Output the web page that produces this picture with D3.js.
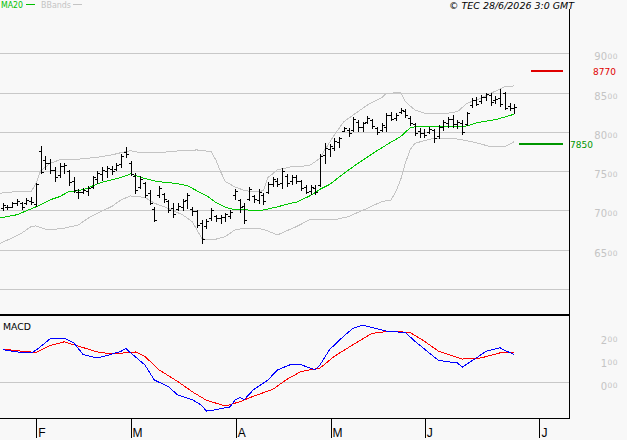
<!DOCTYPE html>
<html>
<head>
<meta charset="utf-8">
<script src="https://cdn.jsdelivr.net/npm/d3@7"></script>
<style>
  body { margin: 0; background: #f8f8f8; }
  svg { display: block; }
</style>
</head>
<body>
<svg id="grafico" width="627" height="440"></svg>
<script>
// Cotações diárias (máxima, mínima, abertura, fechamento)
let maxima = [7100,7070,7110,7145,7110,7155,7175,7355,7820,7695,
  7650,7550,7600,7610,7515,7430,7270,7285,7305,7440,
  7505,7550,7565,7560,7600,7720,7810,7625,7475,7440,
  7365,7260,7050,7305,7225,7135,7090,7100,7145,7225,
  7050,7005,6880,6890,7030,6945,6945,6970,7000,7270,
  7145,7100,7295,7200,7270,7225,7365,7430,7410,7545,
  7460,7450,7445,7390,7325,7325,7325,7715,7855,7840,
  7920,7940,8065,8045,8195,8150,8130,8205,8165,8065,
  8110,8235,8255,8235,8300,8290,8200,8115,8045,8035,
  8065,8035,8090,8150,8195,8215,8145,8145,8255,8430,
  8450,8470,8500,8490,8455,8540,8510,8370,8355];
let minima = [7005,7015,7040,7070,7020,7085,7085,7060,7475,7525,
  7480,7380,7430,7475,7325,7240,7155,7220,7200,7285,
  7345,7390,7430,7465,7515,7550,7685,7445,7220,7285,
  7175,7085,6860,7170,7110,6985,6915,7000,7005,7030,
  6945,6785,6590,6775,6880,6870,6845,6860,6900,7145,
  6985,6845,7135,7110,7100,7085,7220,7305,7305,7285,
  7305,7335,7345,7260,7220,7205,7205,7315,7600,7695,
  7770,7810,8005,7950,8010,8005,8010,8110,8055,7970,
  8010,8010,8145,8145,8235,8195,8090,7960,7940,7940,
  7980,7875,7920,8025,8060,8065,8045,7975,8090,8320,
  8340,8365,8405,8340,8365,8330,8290,8280,8245];
let abertura = [7030,7050,7050,7095,7100,7090,7120,7080,7760,7640,
  7600,7520,7450,7560,7500,7380,7230,7240,7250,7300,
  7400,7470,7500,7530,7530,7590,7740,7600,7440,7300,
  7350,7220,7020,7200,7210,7120,7030,7020,7050,7130,
  7020,6990,6840,6800,6900,6930,6900,6920,6930,7200,
  7130,7060,7150,7180,7130,7200,7230,7340,7380,7350,
  7440,7380,7420,7370,7300,7250,7280,7320,7700,7780,
  7800,7870,8010,8020,8030,8130,8060,8130,8150,8050,
  8020,8060,8220,8180,8250,8270,8180,8100,8010,7990,
  8000,8020,7950,8060,8110,8170,8100,8110,8100,8340,
  8400,8390,8450,8470,8400,8430,8500,8330,8310];
let fechamento = [7075,7040,7090,7120,7045,7130,7110,7340,7490,7600,
  7520,7420,7570,7580,7360,7260,7240,7260,7290,7420,
  7480,7520,7540,7500,7580,7690,7720,7470,7260,7400,
  7200,7100,6880,7280,7150,7010,6950,7060,7120,7200,
  6990,6820,6640,6860,7000,6900,6920,6950,6980,7250,
  7050,6880,7270,7140,7240,7120,7340,7400,7340,7500,
  7350,7420,7370,7290,7240,7300,7230,7690,7800,7820,
  7880,7920,8050,7990,8170,8060,8110,8180,8080,8000,
  8090,8220,8170,8210,8280,8220,8110,7990,7990,7960,
  8040,7920,8060,8130,8170,8100,8120,8000,8240,8410,
  8360,8440,8480,8380,8420,8350,8310,8300,8320];

// Média móvel 20 e bandas de Bollinger (por índice do dia)
let mm20Dia = [-0.5,3,6,8,10,12,14,16,18,20,22,25,27,29,31,33,35,37,39,41,43,45,47,49,52,55,58,60,62,65,67,69,72,75,79,82,84,86,87,90,93,96,98,100,104,108];
let mm20 = [6905,6945,7020,7070,7135,7175,7240,7250,7285,7340,7375,7420,7465,7425,7390,7365,7355,7340,7315,7250,7190,7100,7040,7010,7005,7005,7045,7080,7105,7190,7270,7330,7470,7600,7760,7870,7940,8050,8065,8065,8065,8070,8075,8115,8155,8225];

let bandaSupDia = [-0.5,2,4,6,7,8,10,12,14,16,20,23,25,27,29,33,37,41,44,45,46,47,49,51,53,55,56,58,61,63,65,67,68,70,72,75,77,80,81,84,85,87,89,94,96,98,101,103,106,108];
let bandaSup = [7220,7235,7240,7242,7337,7503,7600,7643,7652,7652,7677,7706,7736,7760,7736,7736,7757,7770,7748,7643,7494,7367,7300,7255,7235,7250,7418,7516,7558,7560,7580,7664,7770,7960,8130,8257,8342,8435,8490,8500,8384,8279,8237,8237,8257,8364,8428,8490,8575,8585];

let bandaInfDia = [-0.5,2,4,6,7,9,11,13,16,18,20,23,25,27,28,30,32,34,36,38,40,42,43,45,47,49,51,53,55,58,62,65,70,73,77,80,82,83,84,85,86,87,91,95,99,103,106,108];
let bandaInf = [6583,6650,6710,6795,6803,6761,6761,6774,6816,6900,6965,7050,7134,7185,7176,7168,7092,7049,6998,6943,6858,6647,6625,6634,6667,6752,6774,6774,6761,6689,6794,6888,6880,6922,7028,7112,7134,7240,7388,7601,7770,7855,7919,7919,7876,7812,7812,7876];

// MACD e linha de sinal
let macdDia = [0,3,6,7,9,10,13,15,17,20,22,25,26,27,30,32,35,37,40,42,43,45,48,49,50,51,53,56,58,61,63,66,67,69,72,74,76,79,81,85,87,90,92,96,97,100,102,105,106,108];
let macd = [142,132,128,139,172,189,192,172,120,106,116,135,148,128,76,10,-19,-56,-75,-100,-125,-119,-107,-78,-66,-75,-31,10,54,79,76,54,76,142,201,235,248,233,223,216,179,128,95,84,66,106,135,150,139,120];
let sinalDia = [0,4,7,10,13,16,20,23,28,30,33,37,40,43,47,50,53,57,60,63,67,70,74,78,82,86,89,92,97,101,105,108];
let sinal = [145,135,130,160,176,157,132,123,132,113,54,3,-41,-78,-103,-85,-60,-31,13,47,62,113,164,213,223,216,179,135,101,106,128,128];

// Eixos
let meses = ["F", "M", "A", "M", "J", "J"];
let mesesDia = [7.1, 27, 49.2, 69.2, 89.1, 113.3];
let grade = [6000, 6500, 7000, 7500, 8000, 8500, 9000];
let rotulosPreco = [6500, 7000, 7500, 8000, 8500, 9000];
let rotulosMacd = [0, 100, 200];
let nivelResistencia = 8770;
let nivelSuporte = 7850;

let svg = d3.select("#grafico");
let xEixo = 569;
let fnX = d3.scaleLinear().domain([0, 108]).range([2.7, 514.3]);
let fnY = d3.scaleLinear().domain([6000, 9000]).range([289, 53.3]);
let fnM = d3.scaleLinear().domain([0, 200]).range([382.3, 336.3]);
let px = (v) => Math.round(v) + 0.5;

svg.append("rect").attr("width", 627).attr("height", 440).attr("fill", "#f8f8f8");

// Grade horizontal
svg
  .selectAll(".grade")
  .data(grade)
  .enter()
  .append("line")
  .classed("grade", true)
  .attr("x1", 0)
  .attr("x2", xEixo)
  .attr("y1", (d) => px(fnY(d)))
  .attr("y2", (d) => px(fnY(d)))
  .attr("stroke", "#c8c8c8")
  .attr("shape-rendering", "crispEdges");

svg
  .append("line")
  .attr("x1", 0)
  .attr("x2", xEixo)
  .attr("y1", px(fnM(0)))
  .attr("y2", px(fnM(0)))
  .attr("stroke", "#c8c8c8")
  .attr("shape-rendering", "crispEdges");

// Bandas e média
function linha(dias, valores, escala, cor) {
  let gerador = d3
    .line()
    .x((d) => fnX(d[0]))
    .y((d) => escala(d[1]));
  svg
    .append("path")
    .attr("d", gerador(d3.zip(dias, valores)))
    .attr("fill", "none")
    .attr("stroke", cor)
    .attr("stroke-width", 1)
    .attr("shape-rendering", "crispEdges");
}
linha(bandaSupDia, bandaSup, fnY, "#c4c4c4");
linha(bandaInfDia, bandaInf, fnY, "#c4c4c4");
linha(mm20Dia, mm20, fnY, "#00c800");

// Barras OHLC
let dados = maxima.map((h, i) => ({
  i: i,
  h: h,
  l: minima[i],
  o: abertura[i],
  c: fechamento[i],
}));
let barras = svg.append("g").attr("fill", "#000").attr("shape-rendering", "crispEdges");
barras
  .selectAll(".barra")
  .data(dados)
  .enter()
  .append("rect")
  .classed("barra", true)
  .attr("x", (d) => Math.round(fnX(d.i)))
  .attr("y", (d) => Math.round(fnY(d.h)))
  .attr("width", 1)
  .attr("height", (d) => Math.round(fnY(d.l)) - Math.round(fnY(d.h)) + 1);
barras
  .selectAll(".abertura")
  .data(dados)
  .enter()
  .append("rect")
  .classed("abertura", true)
  .attr("x", (d) => Math.round(fnX(d.i)) - 2)
  .attr("y", (d) => Math.round(fnY(d.o)))
  .attr("width", 2)
  .attr("height", 1);
barras
  .selectAll(".fechamento")
  .data(dados)
  .enter()
  .append("rect")
  .classed("fechamento", true)
  .attr("x", (d) => Math.round(fnX(d.i)) + 1)
  .attr("y", (d) => Math.round(fnY(d.c)))
  .attr("width", 2)
  .attr("height", 1);

// MACD
linha(sinalDia, sinal, fnM, "#ff0000");
linha(macdDia, macd, fnM, "#0000ff");

// Níveis
svg
  .append("rect")
  .attr("x", 531)
  .attr("width", 32)
  .attr("y", Math.round(fnY(nivelResistencia)) - 1)
  .attr("height", 2)
  .attr("fill", "#e00000");
svg
  .append("rect")
  .attr("x", 519)
  .attr("width", 44)
  .attr("y", Math.round(fnY(nivelSuporte)) - 1)
  .attr("height", 2)
  .attr("fill", "#009600");
svg
  .append("text")
  .attr("x", 593)
  .attr("y", Math.round(fnY(nivelResistencia)) + 4)
  .attr("font-family", "DejaVu Sans")
  .attr("font-size", 9)
  .attr("fill", "#e00000")
  .text(nivelResistencia);
svg
  .append("text")
  .attr("x", 570)
  .attr("y", Math.round(fnY(nivelSuporte)) + 4)
  .attr("font-family", "DejaVu Sans")
  .attr("font-size", 9)
  .attr("fill", "#009600")
  .text(nivelSuporte);

// Molduras
let moldura = svg.append("g").attr("fill", "#000").attr("shape-rendering", "crispEdges");
moldura.append("rect").attr("x", 0).attr("y", 314).attr("width", xEixo).attr("height", 2);
moldura.append("rect").attr("x", 0).attr("y", 418).attr("width", xEixo + 1).attr("height", 1);
moldura.append("rect").attr("x", xEixo).attr("y", 9).attr("width", 1).attr("height", 410);

// Eixo do tempo
let eixoX = d3
  .axisBottom(fnX)
  .tickValues(mesesDia)
  .tickFormat((d, i) => meses[i])
  .tickSize(19);
let gX = svg.append("g").attr("transform", "translate(0,419)").call(eixoX);
gX.select(".domain").remove();
gX.selectAll("line").attr("stroke", "#000").attr("shape-rendering", "crispEdges");
gX.selectAll("text")
  .attr("text-anchor", "start")
  .attr("x", 1.5)
  .attr("y", 18)
  .attr("dy", 0)
  .attr("fill", "#000")
  .attr("font-family", "Liberation Sans")
  .attr("font-size", 12);

// Rótulos de preço: parte grande + "00" pequeno
function rotulo(y, grande, pequeno) {
  svg
    .append("text")
    .attr("x", 607)
    .attr("y", y)
    .attr("text-anchor", "end")
    .attr("font-family", "DejaVu Sans")
    .attr("font-size", 10)
    .attr("fill", "#c4c4c4")
    .text(grande);
  svg
    .append("text")
    .attr("x", 607.5)
    .attr("y", y - 1.5)
    .attr("font-family", "DejaVu Sans")
    .attr("font-size", 7.5)
    .attr("letter-spacing", 0.5)
    .attr("fill", "#c4c4c4")
    .text(pequeno);
}
rotulosPreco.forEach((v) => rotulo(Math.round(fnY(v)) + 7, String(v / 100), "00"));
rotulosMacd.forEach((v) => rotulo(Math.round(fnM(v)) + 7.5, String(v / 100), "00"));

// Legendas
svg.append("text").attr("x", 1).attr("y", 8).attr("font-family", "DejaVu Sans").attr("font-size", 8)
  .attr("textLength", 22).attr("lengthAdjust", "spacingAndGlyphs").attr("fill", "#00c000").text("MA20");
svg.append("rect").attr("x", 26).attr("y", 4).attr("width", 9).attr("height", 1).attr("fill", "#00c000");
svg.append("text").attr("x", 41).attr("y", 8).attr("font-family", "DejaVu Sans").attr("font-size", 8)
  .attr("textLength", 30).attr("lengthAdjust", "spacingAndGlyphs").attr("fill", "#c4c4c4").text("BBands");
svg.append("rect").attr("x", 73).attr("y", 4).attr("width", 9).attr("height", 1).attr("fill", "#c4c4c4");
svg.append("text").attr("x", 3).attr("y", 330).attr("font-family", "DejaVu Sans").attr("font-size", 8.5)
  .attr("textLength", 28).attr("lengthAdjust", "spacingAndGlyphs").attr("fill", "#000").text("MACD");
svg.append("text").attr("x", 574).attr("y", 9).attr("text-anchor", "end").attr("font-family", "DejaVu Sans")
  .attr("font-style", "italic").attr("font-size", 9).attr("textLength", 125).attr("lengthAdjust", "spacingAndGlyphs")
  .attr("fill", "#000").text("© TEC 28/6/2026 3:0 GMT");
</script>
</body>
</html>
